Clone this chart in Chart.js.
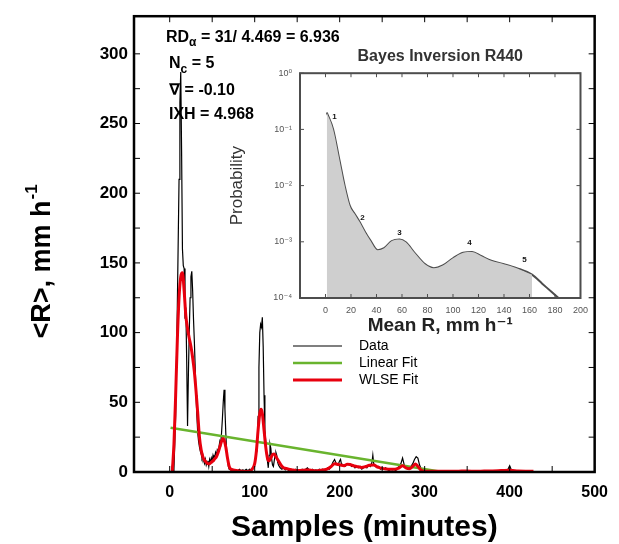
<!DOCTYPE html>
<html>
<head>
<meta charset="utf-8">
<script src="https://cdn.jsdelivr.net/npm/chart.js@4.4.1/dist/chart.umd.min.js"></script>
<style>
  body { margin: 0; background: #fff; }
  #wrap { position: relative; width: 619px; height: 544px; }
  #main { position: absolute; left: 0; top: 0; }
  #inset { position: absolute; left: 225px; top: 40px; }
</style>
</head>
<body>
<div id="wrap">
  <canvas id="main" width="619" height="544"></canvas>
  <canvas id="inset" width="370" height="300"></canvas>
</div>
<script>
// --- main plot: rain rate samples ---
const dataMinutes = [
  2,3,4,5,7,9,11,12,13,14,
  15,16,17,18,19,20,21,22,23,24,
  25,26,27,28,29,30,31,32,33,34,
  35,36,37,38,39,40,41,42,43,44,
  45,46,47,48,49,50,51,52,53,54,
  55,56,57,58,59,60,61,62,63,64,
  65,66,67,68,69,70,72,74,76,78,
  80,82,84,86,88,90,92,94,96,98,
  100,101,102,103,104,105,106,107,108,109,
  110,111,112,113,114,115,116,117,118,119,
  120,121,122,123,124,125,126,127,128,130,
  132,134,136,138,140,142,144,146,148,150,
  152,154,156,158,160,162,164,166,168,170,
  172,174,176,178,180,182,184,186,188,190,
  192,194,196,198,200,201,202,204,206,208,
  210,212,214,216,218,220,222,224,226,228,
  230,232,234,236,238,239,240,242,244,246,
  248,250,252,254,256,258,260,262,264,266,
  268,270,272,274,276,278,280,282,284,286,
  288,290,292,294,296,298,300,305,310,315,
  320,325,330,335,340,345,350,355,360,365,
  370,375,380,385,390,395,398,400,402,405,
  410,415,420,425,428
];
const dataRate = [
  0,4,0,2,40,120,210,265,287,230,
  160,148,146,110,118,80,33,70,100,125,
  140,144,130,110,94,75,55,40,28,22,
  18,15,13,10,12,8,6,9,5,7,
  8,4,9,7,10,8,12,10,11,14,
  12,16,15,18,22,20,28,38,50,59,
  45,28,15,10,4,2,1.5,2,1,1.5,
  1,2,1,1.5,1,2,1,2,1.5,3,
  6,10,14,16,40,75,100,106,104,111,
  90,55,30,22,12,8,3,12,20,17,
  9,5,4,8,12,14,12,7,5,3,
  2,3,1.5,2.5,1,2,1.5,1,2,1,
  1.5,1,2,1,2,3,1.5,1,2,1,
  1.5,1,2,1.5,2,1,2,3,2,4,
  7,9,6,5,8,9,6,5,4,5,
  6,6,4,5,3,4,3,4,2,3,
  4,3,5,4,7,12,6,4,3,4,
  2,3,2,3,2,1,2,1.5,2,1,
  3,4,6,10,5,3,2,3,4,6,
  9,11,10,5,2,1,0.5,1,0.5,1,
  0.8,1,0.5,1,0.8,1,0.5,1,0.8,1,
  0.6,1,0.8,1,1.2,1,2,4.5,1.5,1,
  0.8,1,0.6,0.5,0.3
];
const wlseMinutes = [
  3,5,7,9,11,13,15,17,19,21,
  23,25,27,29,31,33,35,37,39,41,
  43,45,47,49,51,53,55,57,59,61,
  62.5,64,66,68,70,72,75,80,85,90,
  94,97,100,102,104,106,107.5,109,111,113,
  115,117,119,121,123,125,127,129,131,134,
  137,140,145,150,155,160,164,168,172,176,
  180,185,190,194,197,201,205,209,212,216,
  220,226,230,235,240,245,250,255,260,265,
  270,274,278,282,286,289,292,296,300,310,
  320,330,340,350,360,370,380,390,400,410,
  420,428
];
const wlseRate = [
  0,20,55,95,125,140,143,130,112,103,
  96,90,82,72,58,42,25,16,11,8.5,
  7,6,6,7,8,9.5,11,14,18,22,
  24,23,18,10,4,2,1.5,1,0.5,0.3,
  0.5,2,6,15,30,42,45,42,30,18,
  10,8,10,12.5,13,11,9,7,5,3,
  2.5,2,1.5,1,1.2,1.5,1.4,1,0.8,1,
  1.5,2,4,6,5.5,5,4.5,5.5,5.4,4.5,
  4,3.3,3.8,4.8,5,3.5,2.6,2.2,2,1.9,
  3,4.5,3,2.4,4,5.7,4,1.2,0.6,0.5,
  0.6,0.5,0.6,0.7,0.5,0.7,0.8,1,1.2,0.8,
  0.6,0.5
];
const linearMinutes = [1, 321];
const linearRate = [31.8, 0];
const seriesLabels = ['Data', 'Linear Fit', 'WLSE Fit'];
const xTickValues = [0, 100, 200, 300, 400, 500];
const xMinorTicks = [0, 50, 100, 150, 200, 250, 300, 350, 400, 450, 500];
const yTickValues = [0, 25, 50, 75, 100, 125, 150, 175, 200, 225, 250, 275, 300];

// --- inset: Bayes inversion posterior ---
const bayesR = [1, 6, 11, 15, 19, 23, 27, 31, 35, 41, 46, 52, 58, 63, 70, 78, 85, 92, 100, 108, 115, 122, 130, 140, 150, 162, 170, 177, 185];
const bayesP = [0.2, 0.1, 0.028, 0.01, 0.0044, 0.0031, 0.0022, 0.0015, 0.00107, 0.00071, 0.00077, 0.00103, 0.0011, 0.00098, 0.00063, 0.0004, 0.00034, 0.00038, 0.00051, 0.00064, 0.00066, 0.00056, 0.00046, 0.0004, 0.00034, 0.00026, 0.00018, 0.00013, 0.00009];
const shadedUpTo = 162;
const peakR = [7, 29, 58, 113, 156];
const peakP = [0.14, 0.0023, 0.00125, 0.0008, 0.0004];
const peakText = ['1', '2', '3', '4', '5'];
const insetXTicks = [0, 20, 40, 60, 80, 100, 120, 140, 160, 180, 200];
const insetYTicks = [1e-4, 1e-3, 1e-2, 1e-1, 1];

const FONT = '"Liberation Sans", Arial, "DejaVu Sans", sans-serif';
Chart.defaults.font.family = FONT;

const pairs = (xs, ys) => xs.map((x, i) => ({ x: x, y: ys[i] }));

// inward tick marks + box around the plot area
const framePlugin = {
  id: 'frame',
  afterDatasetsDraw(chart, args, o) {
    const { ctx, chartArea: a, scales: { x, y } } = chart;
    ctx.save();
    ctx.strokeStyle = o.color;
    ctx.lineWidth = 1;
    ctx.beginPath();
    o.xTicks.forEach(v => {
      const px = x.getPixelForValue(v);
      ctx.moveTo(px, a.top); ctx.lineTo(px, a.top + o.len);
      ctx.moveTo(px, a.bottom); ctx.lineTo(px, a.bottom - o.len);
    });
    o.yTicks.forEach(v => {
      const py = y.getPixelForValue(v);
      ctx.moveTo(a.left, py); ctx.lineTo(a.left + o.len, py);
      ctx.moveTo(a.right, py); ctx.lineTo(a.right - o.len, py);
    });
    ctx.stroke();
    ctx.lineWidth = o.width;
    ctx.strokeRect(a.left, a.top, a.right - a.left, a.bottom - a.top);
    ctx.restore();
  }
};

// statistics text, legend and y title of the main plot
const notesPlugin = {
  id: 'notes',
  afterDraw(chart, args, o) {
    const ctx = chart.ctx;
    ctx.save();
    ctx.fillStyle = '#000';
    ctx.textBaseline = 'alphabetic';
    o.lines.forEach(line => {
      let x = line.x;
      line.parts.forEach(p => {
        ctx.font = 'bold ' + p.size + 'px ' + FONT;
        ctx.fillText(p.t, x, line.y + (p.dy || 0));
        x += ctx.measureText(p.t).width;
      });
    });

    // legend
    ctx.font = '14px ' + FONT;
    ctx.textBaseline = 'middle';
    chart.data.datasets.forEach((ds, i) => {
      const y = o.legend.y + i * o.legend.gap;
      ctx.strokeStyle = ds.borderColor;
      ctx.lineWidth = ds.borderWidth;
      ctx.beginPath();
      ctx.moveTo(o.legend.x, y);
      ctx.lineTo(o.legend.x + o.legend.len, y);
      ctx.stroke();
      ctx.fillText(ds.label, o.legend.textX, y);
    });

    // rotated y title with superscript
    ctx.translate(o.yTitle.x, o.yTitle.y);
    ctx.rotate(-Math.PI / 2);
    ctx.textBaseline = 'alphabetic';
    ctx.font = 'bold 27px ' + FONT;
    const w1 = ctx.measureText('<R>, mm h').width;
    ctx.font = 'bold 17px ' + FONT;
    const w2 = ctx.measureText('-1').width;
    const x0 = -(w1 + w2) / 2;
    ctx.font = 'bold 27px ' + FONT;
    ctx.fillText('<R>, mm h', x0, 0);
    ctx.font = 'bold 17px ' + FONT;
    ctx.fillText('-1', x0 + w1 + 1, -13);
    ctx.restore();
  }
};

// numbered peaks on the posterior curve
const peakPlugin = {
  id: 'peaks',
  afterDatasetsDraw(chart) {
    const { ctx, scales: { x, y } } = chart;
    ctx.save();
    ctx.fillStyle = '#111';
    ctx.font = 'bold 8px ' + FONT;
    ctx.textAlign = 'center';
    ctx.textBaseline = 'bottom';
    peakText.forEach((t, i) => {
      ctx.fillText(t, x.getPixelForValue(peakR[i]), y.getPixelForValue(peakP[i]));
    });
    ctx.restore();
  }
};

new Chart(document.getElementById('main'), {
  type: 'line',
  data: {
    datasets: [
      { label: seriesLabels[0], data: pairs(dataMinutes, dataRate), borderColor: '#000000', borderWidth: 1.2, pointRadius: 0, tension: 0, order: 2 },
      { label: seriesLabels[1], data: pairs(linearMinutes, linearRate), borderColor: '#69b42e', borderWidth: 2.5, pointRadius: 0, order: 1 },
      { label: seriesLabels[2], data: pairs(wlseMinutes, wlseRate), borderColor: '#e8000e', borderWidth: 3, pointRadius: 0, cubicInterpolationMode: 'monotone', order: 0 }
    ]
  },
  options: {
    responsive: false,
    animation: false,
    layout: { padding: { top: 10, right: 21, left: 0, bottom: 0 } },
    plugins: {
      legend: { display: false },
      tooltip: { enabled: false },
      frame: { xTicks: xMinorTicks, yTicks: yTickValues, len: 6, width: 2.5, color: '#000' },
      notes: {
        lines: [
          { x: 166, y: 42, parts: [{ t: 'RD', size: 16 }, { t: 'α', size: 12, dy: 4 }, { t: ' = 31/ 4.469 = 6.936', size: 16 }] },
          { x: 169, y: 68, parts: [{ t: 'N', size: 16 }, { t: 'c', size: 12, dy: 5 }, { t: ' = 5', size: 16 }] },
          { x: 169, y: 95, parts: [{ t: '∇ = -0.10', size: 16 }] },
          { x: 169, y: 119, parts: [{ t: 'IXH = 4.968', size: 16 }] }
        ],
        legend: { x: 293, y: 346, gap: 17, len: 49, textX: 359 },
        yTitle: { x: 50, y: 262 }
      }
    },
    scales: {
      x: {
        type: 'linear', min: -42, max: 500,
        afterBuildTicks: s => { s.ticks = xTickValues.map(v => ({ value: v })); },
        afterFit: s => { s.height = 72; },
        grid: { display: false, drawTicks: false },
        border: { display: false },
        ticks: { padding: 11, color: '#000', maxRotation: 0, font: { size: 16, weight: 'bold' } },
        title: { display: true, text: 'Samples (minutes)', color: '#000', padding: { top: 0, bottom: 0 }, font: { size: 30, weight: 'bold', lineHeight: 1.1 } }
      },
      y: {
        type: 'linear', min: 0, max: 327,
        afterBuildTicks: s => { s.ticks = yTickValues.map(v => ({ value: v })); },
        afterFit: s => { s.width = 134; },
        grid: { display: false, drawTicks: false },
        border: { display: false },
        ticks: { padding: 6, color: '#000', font: { size: 17, weight: 'bold' }, callback: v => (v % 50 === 0 ? v : '') }
      }
    }
  },
  plugins: [framePlugin, notesPlugin]
});

const sup = { '0': '⁰', '1': '¹', '2': '²', '3': '³', '4': '⁴', '-': '⁻' };
const nShaded = bayesR.filter(r => r <= shadedUpTo).length;

new Chart(document.getElementById('inset'), {
  type: 'line',
  data: {
    datasets: [
      { label: 'shaded', data: pairs(bayesR.slice(0, nShaded), bayesP.slice(0, nShaded)), fill: 'start', backgroundColor: '#cfcfcf', borderWidth: 0, pointRadius: 0, cubicInterpolationMode: 'monotone' },
      { label: 'posterior', data: pairs(bayesR, bayesP), fill: false, borderColor: '#4d4d4d', borderWidth: 2, pointRadius: 0, cubicInterpolationMode: 'monotone' }
    ]
  },
  options: {
    responsive: false,
    animation: false,
    layout: { padding: { top: 0, right: 12, left: 0, bottom: 0 } },
    plugins: {
      legend: { display: false },
      tooltip: { enabled: false },
      title: { display: true, fullSize: false, text: 'Bayes Inversion R440', color: '#333', padding: { top: 7, bottom: 7 }, font: { size: 16, weight: 'bold' } },
      frame: { xTicks: insetXTicks, yTicks: insetYTicks, len: 4, width: 2, color: '#4d4d4d' }
    },
    scales: {
      x: {
        type: 'linear', min: -20, max: 200,
        afterBuildTicks: s => { s.ticks = insetXTicks.map(v => ({ value: v })); },
        afterFit: s => { s.height = 42; },
        grid: { display: false, drawTicks: false },
        border: { display: false },
        ticks: { padding: 7, color: '#555', maxRotation: 0, font: { size: 9 } },
        title: { display: true, text: 'Mean R, mm h⁻¹', color: '#222', padding: { top: 0, bottom: 4 }, font: { size: 19, weight: 'bold', lineHeight: 1.1 } }
      },
      y: {
        type: 'logarithmic', min: 1e-4, max: 1,
        afterBuildTicks: s => { s.ticks = insetYTicks.map(v => ({ value: v })); },
        afterFit: s => { s.width = 75; },
        grid: { display: false, drawTicks: false },
        border: { display: false },
        ticks: {
          padding: 8, color: '#555', font: { size: 9 },
          callback: v => '10' + String(Math.round(Math.log10(v))).split('').map(c => sup[c]).join('')
        },
        title: { display: true, text: 'Probability', color: '#333', padding: { top: 2, bottom: 0 }, font: { size: 17 } }
      }
    }
  },
  plugins: [framePlugin, peakPlugin]
});
</script>
</body>
</html>
